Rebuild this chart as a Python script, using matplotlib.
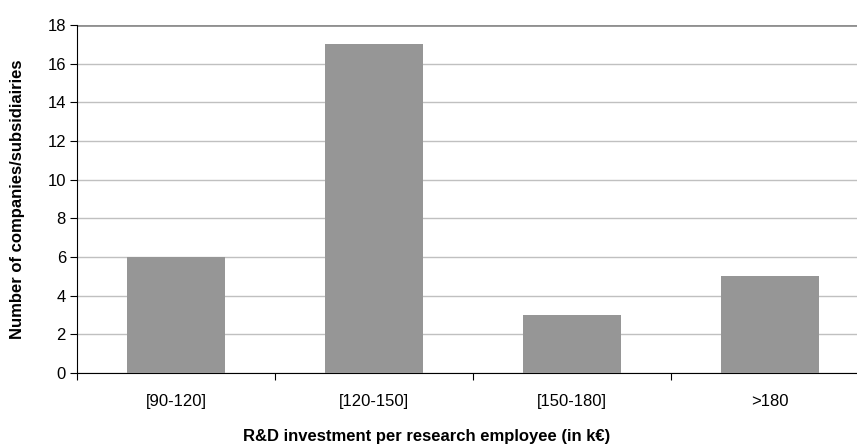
import matplotlib
matplotlib.use('agg')
import matplotlib.pyplot as plt
import numpy as np

categories = ['[90-120]', '[120-150]', '[150-180]', '>180']
counts = [6, 17, 3, 5]
yticks = [0, 2, 4, 6, 8, 10, 12, 14, 16, 18]

plt.rcParams['font.family'] = ['Liberation Sans', 'DejaVu Sans']

fig = plt.figure(figsize=(8.57, 4.45), dpi=100)
# plot area runs a bit past the right edge, like the original
ax = fig.add_axes([77/857, 1-373/445, 792/857, 348/445])

x = np.arange(len(categories))
ax.bar(x, counts, width=0.495, color='#969696', zorder=3)

ax.set_xlim(-0.5, len(categories) - 0.5)
ax.set_ylim(0, 18)
ax.set_yticks(yticks)
ax.set_yticklabels([str(v) for v in yticks], fontsize=12)
ax.yaxis.grid(True, color='#c0c0c0', linewidth=1, zorder=0)
ax.axhline(18, color='#909090', linewidth=2, zorder=2)

# category labels between boundary ticks
ax.set_xticks(np.arange(-0.5, len(categories), 1.0))
ax.set_xticklabels([])
ax.set_xticks(x, minor=True)
ax.set_xticklabels(categories, minor=True, fontsize=12)
ax.tick_params(axis='x', which='minor', length=0, pad=15)
ax.tick_params(axis='x', which='major', length=5, direction='out', color='black')
ax.tick_params(axis='y', length=5, direction='out', color='black', pad=3)

for s in ['top', 'right']:
    ax.spines[s].set_visible(False)
ax.spines['left'].set_color('black')
ax.spines['bottom'].set_color('black')

ax.set_ylabel('Number of companies/subsidiairies', fontsize=12, fontweight='bold')
ax.yaxis.set_label_coords((25-77)/792, 0.5)
fig.text(427/857, 1-437/445, 'R&D investment per research employee (in k€)',
         ha='center', va='center', fontsize=12, fontweight='bold')

fig.savefig('out.png', dpi=100)
